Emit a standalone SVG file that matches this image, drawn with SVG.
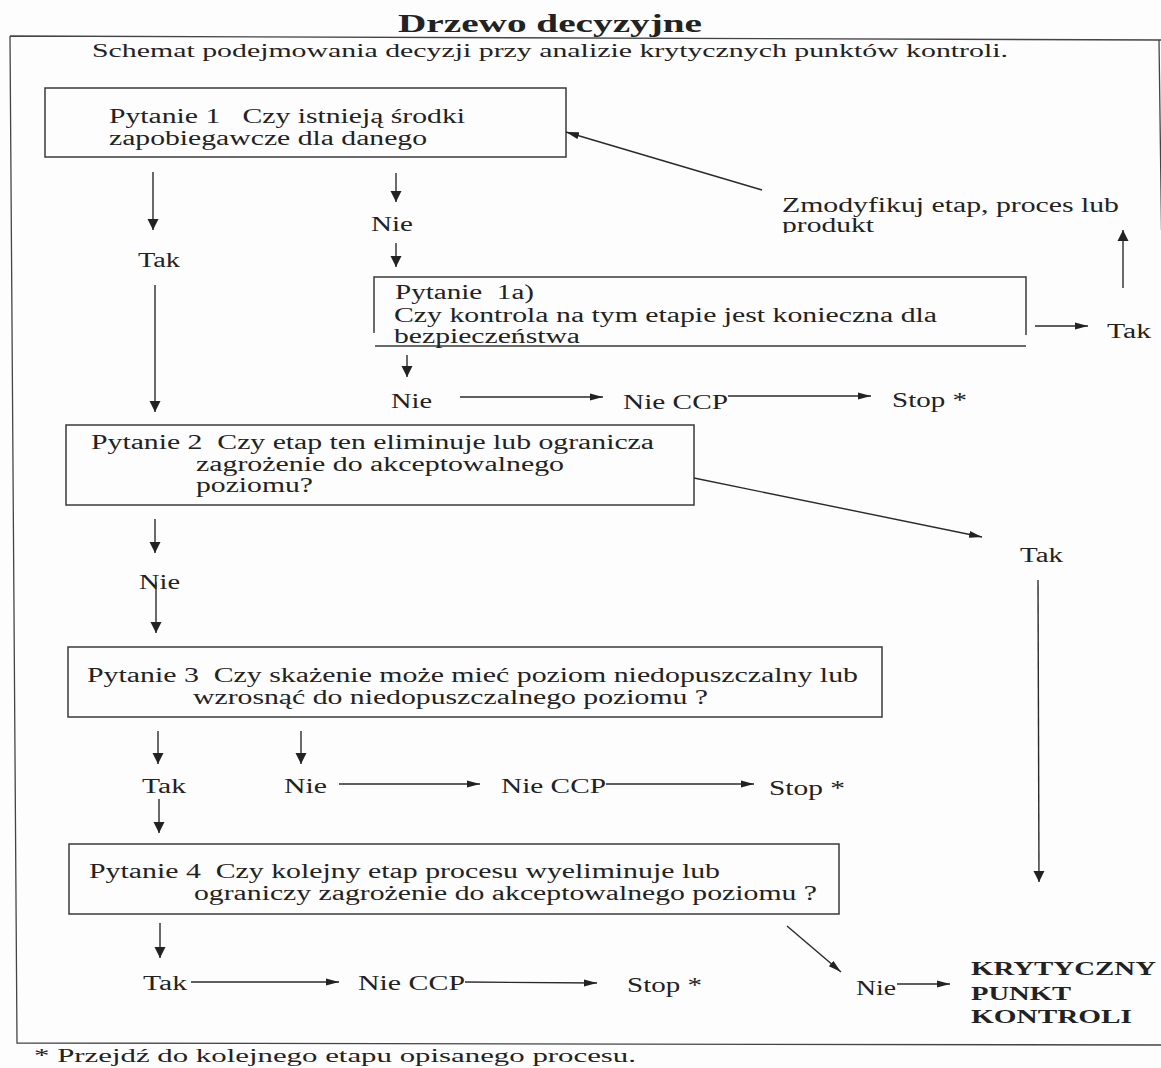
<svg xmlns="http://www.w3.org/2000/svg" width="1161" height="1068" viewBox="0 0 1161 1068">
<style>
text{font-family:"Liberation Serif","Times New Roman",serif;fill:#222;font-size:20.5px}
.t{font-size:26px;font-weight:bold}
.s{font-size:18.5px}
.f{font-size:18px}
.b{font-size:18.5px;font-weight:bold}
.box{fill:none;stroke:#3a3a3a;stroke-width:1.5}
.frame{fill:none;stroke:#444;stroke-width:1.3}
#connectors line{stroke:#2a2a2a;stroke-width:1.4;fill:none}
.h{marker-end:url(#ah)}
.v{marker-end:url(#av)}
</style>
<defs>
<marker id="ah" markerWidth="13" markerHeight="8" refX="13" refY="4" orient="auto" markerUnits="userSpaceOnUse"><path d="M0,0.5 L13,4 L0,7.5 z" fill="#222"/></marker>
<marker id="av" markerWidth="11" markerHeight="12" refX="11" refY="6" orient="auto" markerUnits="userSpaceOnUse"><path d="M0,0.5 L11,6 L0,11.5 z" fill="#222"/></marker>
<clipPath id="cutProdukt"><rect x="770" y="212" width="200" height="21"/></clipPath>
</defs>
<rect width="1161" height="1068" fill="#fdfdfd"/>
<g id="frame">
<path class="frame" d="M10,36 L1161,40 M1159,40 L1161.5,230 M10,36 L17,1043 L1161,1045"/>
</g>
<g id="title">
<text class="t" x="398" y="32" textLength="304" lengthAdjust="spacingAndGlyphs">Drzewo decyzyjne</text>
<text class="s" x="92" y="57" textLength="916" lengthAdjust="spacingAndGlyphs">Schemat podejmowania decyzji przy analizie krytycznych punktów kontroli.</text>
</g>
<g id="q1">
<rect class="box" x="45" y="88" width="521" height="69"/>
<text x="109" y="123" textLength="356" lengthAdjust="spacingAndGlyphs" xml:space="preserve">Pytanie 1   Czy istnieją środki</text>
<text x="109" y="145" textLength="318" lengthAdjust="spacingAndGlyphs">zapobiegawcze dla danego</text>
</g>
<g id="q1-tak"><text x="138" y="267" textLength="42" lengthAdjust="spacingAndGlyphs">Tak</text></g>
<g id="q1-nie"><text x="371" y="231" textLength="42" lengthAdjust="spacingAndGlyphs">Nie</text></g>
<g id="modify">
<text x="782" y="212" textLength="337" lengthAdjust="spacingAndGlyphs">Zmodyfikuj etap, proces lub</text>
<text x="782" y="232" textLength="92" lengthAdjust="spacingAndGlyphs" clip-path="url(#cutProdukt)">produkt</text>
</g>
<g id="q1a">
<path class="box" d="M374,333 V277 H1026 V335 M375,346 H1026"/>
<text x="395" y="299" textLength="139" lengthAdjust="spacingAndGlyphs" xml:space="preserve">Pytanie  1a)</text>
<text x="394" y="322" textLength="543" lengthAdjust="spacingAndGlyphs">Czy kontrola na tym etapie jest konieczna dla</text>
<text x="394" y="343" textLength="186" lengthAdjust="spacingAndGlyphs">bezpieczeństwa</text>
</g>
<g id="q1a-tak"><text x="1107" y="338" textLength="44" lengthAdjust="spacingAndGlyphs">Tak</text></g>
<g id="q1a-nie"><text x="391" y="408" textLength="41" lengthAdjust="spacingAndGlyphs">Nie</text></g>
<g id="q1a-nieccp"><text x="623" y="409" textLength="105" lengthAdjust="spacingAndGlyphs">Nie CCP</text></g>
<g id="q1a-stop"><text x="892" y="407" textLength="75" lengthAdjust="spacingAndGlyphs">Stop *</text></g>
<g id="q2">
<rect class="box" x="66" y="425" width="628" height="80"/>
<text x="91" y="449" textLength="563" lengthAdjust="spacingAndGlyphs" xml:space="preserve">Pytanie 2  Czy etap ten eliminuje lub ogranicza</text>
<text x="196" y="471" textLength="368" lengthAdjust="spacingAndGlyphs">zagrożenie do akceptowalnego</text>
<text x="196" y="492" textLength="117" lengthAdjust="spacingAndGlyphs">poziomu?</text>
</g>
<g id="q2-tak"><text x="1020" y="562" textLength="43" lengthAdjust="spacingAndGlyphs">Tak</text></g>
<g id="q2-nie"><text x="139" y="589" textLength="41" lengthAdjust="spacingAndGlyphs">Nie</text></g>
<g id="q3">
<rect class="box" x="68" y="647" width="814" height="70"/>
<text x="87" y="682" textLength="771" lengthAdjust="spacingAndGlyphs" xml:space="preserve">Pytanie 3  Czy skażenie może mieć poziom niedopuszczalny lub</text>
<text x="193" y="704" textLength="515" lengthAdjust="spacingAndGlyphs">wzrosnąć do niedopuszczalnego poziomu ?</text>
</g>
<g id="q3-tak"><text x="142" y="793" textLength="44" lengthAdjust="spacingAndGlyphs">Tak</text></g>
<g id="q3-nie"><text x="284" y="793" textLength="43" lengthAdjust="spacingAndGlyphs">Nie</text></g>
<g id="q3-nieccp"><text x="501" y="793" textLength="105" lengthAdjust="spacingAndGlyphs">Nie CCP</text></g>
<g id="q3-stop"><text x="769" y="795" textLength="76" lengthAdjust="spacingAndGlyphs">Stop *</text></g>
<g id="q4">
<rect class="box" x="69" y="844" width="770" height="70"/>
<text x="89" y="878" textLength="631" lengthAdjust="spacingAndGlyphs" xml:space="preserve">Pytanie 4  Czy kolejny etap procesu wyeliminuje lub</text>
<text x="194" y="900" textLength="623" lengthAdjust="spacingAndGlyphs">ograniczy zagrożenie do akceptowalnego poziomu ?</text>
</g>
<g id="q4-tak"><text x="143" y="990" textLength="44" lengthAdjust="spacingAndGlyphs">Tak</text></g>
<g id="q4-nieccp"><text x="358" y="990" textLength="107" lengthAdjust="spacingAndGlyphs">Nie CCP</text></g>
<g id="q4-stop"><text x="627" y="992" textLength="75" lengthAdjust="spacingAndGlyphs">Stop *</text></g>
<g id="q4-nie"><text x="856" y="995" textLength="40" lengthAdjust="spacingAndGlyphs">Nie</text></g>
<g id="ccp">
<text class="b" x="971" y="975" textLength="185" lengthAdjust="spacingAndGlyphs">KRYTYCZNY</text>
<text class="b" x="971" y="1000" textLength="100" lengthAdjust="spacingAndGlyphs">PUNKT</text>
<text class="b" x="971" y="1023" textLength="161" lengthAdjust="spacingAndGlyphs">KONTROLI</text>
</g>
<g id="footnote">
<text class="f" x="34" y="1062" textLength="602" lengthAdjust="spacingAndGlyphs">* Przejdź do kolejnego etapu opisanego procesu.</text>
</g>
<g id="connectors">
<line class="v" x1="153" y1="172" x2="153" y2="230"/>
<line class="v" x1="155" y1="285" x2="155" y2="412"/>
<line class="v" x1="396" y1="173" x2="396" y2="202"/>
<line class="v" x1="396" y1="243" x2="396" y2="267"/>
<line class="v" x1="407" y1="355" x2="407" y2="377"/>
<line class="h" x1="460" y1="397" x2="603" y2="397"/>
<line class="h" x1="728" y1="396" x2="871" y2="396"/>
<line class="h" x1="1035" y1="326" x2="1088" y2="326"/>
<line class="v" x1="1123" y1="288" x2="1123" y2="230"/>
<line class="h" x1="762" y1="190" x2="566" y2="132"/>
<line class="h" x1="694" y1="478" x2="982" y2="537"/>
<line class="v" x1="1038" y1="580" x2="1039" y2="882"/>
<line class="v" x1="155" y1="519" x2="155" y2="553"/>
<line class="v" x1="156" y1="582" x2="156" y2="633"/>
<line class="v" x1="158" y1="731" x2="158" y2="764"/>
<line class="v" x1="301" y1="731" x2="301" y2="764"/>
<line class="h" x1="339" y1="784" x2="480" y2="784"/>
<line class="h" x1="606" y1="784" x2="754" y2="784"/>
<line class="v" x1="159" y1="799" x2="159" y2="833"/>
<line class="v" x1="160" y1="923" x2="160" y2="958"/>
<line class="h" x1="191" y1="982" x2="339" y2="982"/>
<line class="h" x1="465" y1="982" x2="597" y2="983"/>
<line class="h" x1="787" y1="926" x2="841" y2="972"/>
<line class="h" x1="897" y1="984" x2="950" y2="984"/>
</g>
</svg>
